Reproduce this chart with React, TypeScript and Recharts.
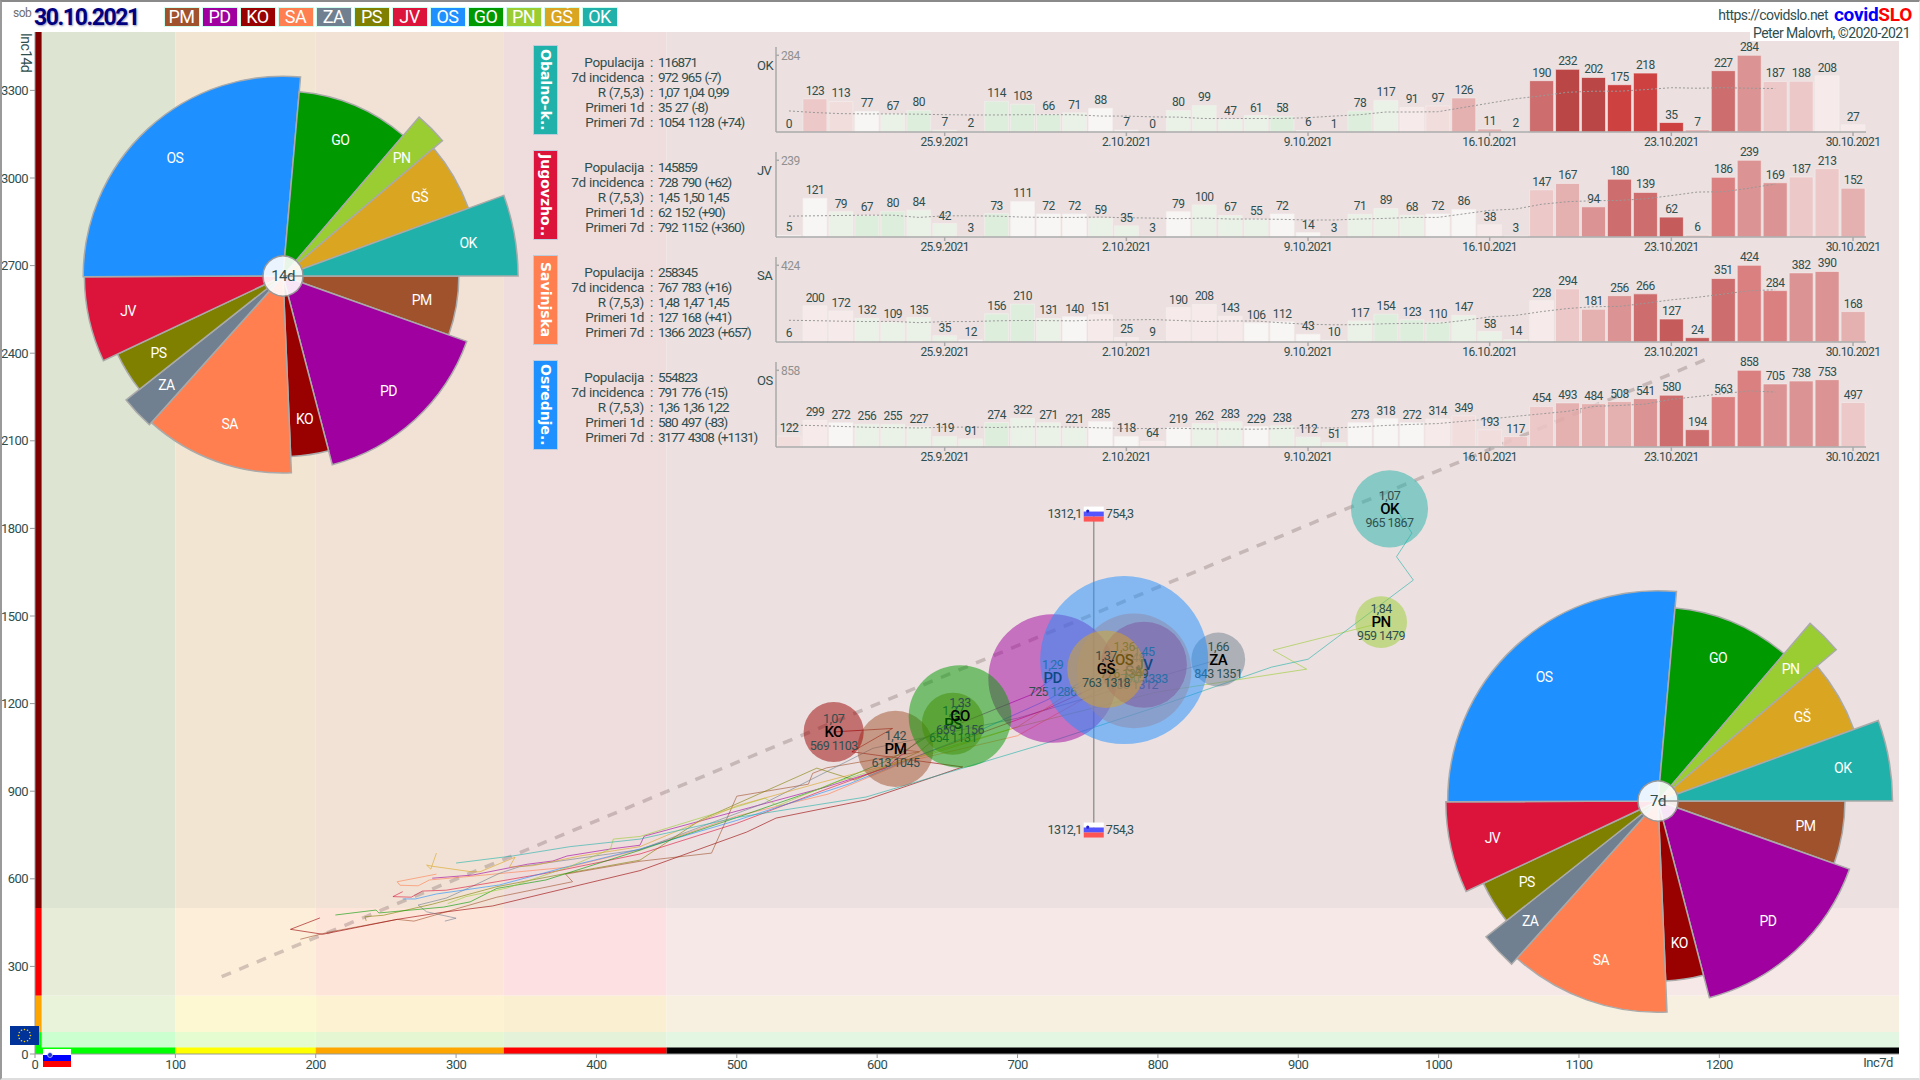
import React from 'react';
import {
  ScatterChart, Scatter, XAxis, YAxis, ZAxis, Cell, ReferenceArea, ComposedChart, Bar, Line,
  PieChart, Pie,
} from 'recharts';

const FONT = 'Roboto, sans-serif';
const INK = '#2f4f4f';

// regions, legend order
const codes = ['PM', 'PD', 'KO', 'SA', 'ZA', 'PS', 'JV', 'OS', 'GO', 'PN', 'GŠ', 'OK'];
const colors = ['#a0522d', '#a000a0', '#990000', '#ff7f50', '#708090', '#808000', '#dc143c', '#1e90ff', '#009900', '#9acd32', '#daa520', '#20b2aa'];
const population = [114000, 325000, 71000, 258345, 57000, 76000, 145859, 554823, 207000, 53000, 118000, 116871];
const inc7d = [613, 725, 569, 783, 843, 654, 790, 776, 659, 959, 763, 965];
const inc14d = [1045, 1286, 1103, 1312, 1351, 1131, 1333, 1349, 1156, 1479, 1318, 1867];
const rValues = ['1,42', '1,29', '1,07', '1,48', '1,66', '1,37', '1,45', '1,36', '1,33', '1,84', '1,37', '1,07'];

const regions = codes.map((code, i) => ({
  code, color: colors[i], pop: population[i], x: inc7d[i], y: inc14d[i], r: rValues[i],
}));

// trajectories, [inc7d, inc14d]
const tracks: Record<string, number[][]> = {
  PM: [[189, 393], [209, 417], [258, 461], [270, 455], [329, 537], [383, 590], [378, 616], [431, 660], [482, 688], [500, 883], [551, 924], [554, 961], [564, 980], [630, 1035], [613, 1045]],
  PD: [[283, 602], [312, 613], [351, 650], [369, 661], [379, 678], [410, 702], [431, 715], [434, 746], [521, 859], [564, 915], [606, 979], [630, 1075], [677, 1167], [709, 1229], [725, 1286]],
  KO: [[203, 466], [182, 427], [205, 410], [258, 461], [290, 485], [326, 507], [431, 628], [507, 760], [528, 808], [592, 870], [661, 983], [582, 1035], [611, 1115], [569, 1103]],
  SA: [[286, 616], [258, 590], [260, 578], [273, 576], [281, 596], [307, 607], [380, 640], [431, 700], [500, 815], [565, 890], [620, 1000], [700, 1090], [783, 1312]],
  ZA: [[292, 455], [300, 465], [279, 487], [273, 510], [293, 534], [311, 573], [331, 619], [345, 641], [431, 700], [520, 860], [597, 1047], [700, 1150], [843, 1351]],
  PS: [[236, 456], [235, 470], [248, 475], [283, 513], [329, 573], [379, 619], [431, 664], [474, 801], [557, 979], [584, 938], [630, 1035], [654, 1131]],
  JV: [[262, 556], [255, 539], [268, 537], [276, 558], [293, 561], [329, 590], [364, 619], [431, 685], [500, 790], [560, 900], [640, 1040], [720, 1180], [790, 1333]],
  OS: [[262, 531], [271, 531], [286, 548], [331, 579], [379, 641], [431, 702], [500, 800], [580, 925], [660, 1080], [720, 1210], [776, 1349]],
  GO: [[214, 476], [243, 493], [245, 483], [291, 503], [310, 521], [329, 567], [364, 596], [431, 698], [500, 810], [560, 910], [610, 1010], [659, 1156]],
  PN: [[294, 515], [307, 539], [336, 568], [380, 640], [410, 702], [412, 736], [431, 745], [520, 876], [529, 850], [568, 927], [650, 1050], [700, 1120], [800, 1240], [906, 1318], [882, 1383], [952, 1468], [959, 1479]],
  'GŠ': [[286, 688], [282, 633], [279, 647], [283, 643], [311, 624], [317, 624], [342, 674], [338, 640], [355, 645], [388, 678], [431, 710], [500, 850], [560, 930], [640, 1030], [700, 1120], [763, 1318]],
  OK: [[300, 654], [340, 678], [381, 710], [431, 736], [500, 810], [592, 880], [716, 1058], [800, 1190], [881, 1325], [907, 1352], [982, 1623], [970, 1703], [981, 1784], [971, 1857], [965, 1867]],
};

const trendLine = [{ x: 133, y: 265 }, { x: 1195, y: 2388 }];
const sloMarkers = [{ x: 754.3, y: 1849 }, { x: 754.3, y: 767 }];

// background bands
const xBands = [0, 100, 200, 334, 450, 1328];
const yBands = [0, 75, 200, 500, 3500];
const bandFills = [
  ['#ccffcf', '#e4fccf', '#e4f6d2', '#e4f2da', '#e2f6e2'],
  ['#e8f3d9', '#fdf7d2', '#fdf3d2', '#fbefd2', '#f7f0e0'],
  ['#e7ecd9', '#fdeeda', '#fee5da', '#fde0e2', '#f7e8e8'],
  ['#dde5d2', '#f2e6d2', '#f1e2d5', '#efdcdc', '#ece0e0'],
];
const xStripFills = ['#00ff00', '#ffff00', '#ffa500', '#ff0000', '#000000'];
const yStripFills = ['#00ff00', '#ffa500', '#ff0000', '#800000'];
const xTicks = [0, 100, 200, 300, 400, 500, 600, 700, 800, 900, 1000, 1100, 1200];
const yTicks = [0, 300, 600, 900, 1200, 1500, 1800, 2100, 2400, 2700, 3000, 3300];

// small daily charts
const days = [
  '19.9.2021', '20.9.2021', '21.9.2021', '22.9.2021', '23.9.2021', '24.9.2021', '25.9.2021',
  '26.9.2021', '27.9.2021', '28.9.2021', '29.9.2021', '30.9.2021', '1.10.2021', '2.10.2021',
  '3.10.2021', '4.10.2021', '5.10.2021', '6.10.2021', '7.10.2021', '8.10.2021', '9.10.2021',
  '10.10.2021', '11.10.2021', '12.10.2021', '13.10.2021', '14.10.2021', '15.10.2021', '16.10.2021',
  '17.10.2021', '18.10.2021', '19.10.2021', '20.10.2021', '21.10.2021', '22.10.2021', '23.10.2021',
  '24.10.2021', '25.10.2021', '26.10.2021', '27.10.2021', '28.10.2021', '29.10.2021', '30.10.2021',
];
const dayTicks = ['25.9.2021', '2.10.2021', '9.10.2021', '16.10.2021', '23.10.2021', '30.10.2021'];

const okDaily = [0, 123, 113, 77, 67, 80, 7, 2, 114, 103, 66, 71, 88, 7, 0, 80, 99, 47, 61, 58, 6, 1, 78, 117, 91, 97, 126, 11, 2, 190, 232, 202, 175, 218, 35, 7, 227, 284, 187, 188, 208, 27];
const jvDaily = [5, 121, 79, 67, 80, 84, 42, 3, 73, 111, 72, 72, 59, 35, 3, 79, 100, 67, 55, 72, 14, 3, 71, 89, 68, 72, 86, 38, 3, 147, 167, 94, 180, 139, 62, 6, 186, 239, 169, 187, 213, 152];
const saDaily = [6, 200, 172, 132, 109, 135, 35, 12, 156, 210, 131, 140, 151, 25, 9, 190, 208, 143, 106, 112, 43, 10, 117, 154, 123, 110, 147, 58, 14, 228, 294, 181, 256, 266, 127, 24, 351, 424, 284, 382, 390, 168];
const osDaily = [122, 299, 272, 256, 255, 227, 119, 91, 274, 322, 271, 221, 285, 118, 64, 219, 262, 283, 229, 238, 112, 51, 273, 318, 272, 314, 349, 193, 117, 454, 493, 484, 508, 541, 580, 194, 563, 858, 705, 738, 753, 497];

const okAvg = [78, 72, 68, 67, 67, 66, 64, 63, 63, 64, 64, 64, 59, 59, 56, 55, 50, 50, 50, 50, 53, 59, 64, 74, 74, 75, 91, 107, 123, 134, 147, 151, 151, 157, 164, 162, 164, 162, 161];
const jvAvg = [65, 66, 67, 68, 68, 61, 66, 66, 65, 62, 61, 61, 62, 60, 59, 57, 59, 56, 56, 55, 53, 53, 56, 58, 61, 61, 72, 83, 87, 102, 110, 113, 114, 119, 129, 140, 141, 152, 165];
const saAvg = [120, 118, 115, 113, 114, 107, 113, 113, 117, 119, 118, 117, 122, 122, 124, 119, 113, 116, 116, 106, 98, 95, 96, 101, 103, 103, 119, 139, 147, 168, 185, 195, 197, 214, 233, 247, 265, 283, 289];
const osAvg = [245, 240, 230, 221, 217, 213, 221, 223, 218, 226, 226, 222, 214, 206, 207, 209, 202, 201, 199, 207, 215, 213, 225, 241, 253, 262, 288, 313, 343, 371, 399, 454, 465, 480, 533, 564, 597, 627, 615];

// bar tone per day: -2 green .. 0 white .. 10 dark red
const okTones = [0, 3, 2, 0, -1, -2, -1, 0, -2, -2, -2, -1, 0, 0, 0, -1, -1, -1, -1, -2, 0, 0, -2, -1, 1, 2, 4, 4, 0, 7, 9, 9, 10, 10, 10, 5, 7, 5, 3, 3, 1, 1];
const jvTones = [0, 0, -1, -2, -2, -1, -1, 0, -2, 0, 0, 0, -1, -1, 0, 0, -1, -1, -1, 0, 0, 0, -1, -1, -1, 0, 0, 1, 0, 3, 4, 5, 7, 7, 8, 3, 6, 5, 5, 3, 3, 4];
const saTones = [0, 1, 1, -1, -1, -1, -1, 0, -2, -2, -1, 0, 1, 1, 1, 1, 1, 1, 0, 0, 0, 0, -1, -2, -2, -2, -1, -1, -1, 1, 3, 4, 5, 7, 8, 8, 7, 6, 6, 5, 5, 4];
const osTones = [2, 1, 0, -1, -1, -1, -1, -1, -2, -1, -1, -1, 0, 0, 1, 0, -1, -1, 0, -1, -1, -1, 0, 0, 0, 1, 2, 2, 3, 3, 4, 4, 4, 5, 7, 7, 6, 6, 5, 5, 5, 3];
const toneFills = ['#dcefdc', '#e9f3e6', '#f8f8f6', '#f7eaea', '#f2dcdc', '#edc4c4', '#e2a8a8', '#da8888', '#d87272', '#c85c5c', '#c04848', '#b43030', '#c82a2a'];

const statLabels = ['Populacija', '7d incidenca', 'R (7,5,3)', 'Primeri 1d', 'Primeri 7d'];
const okStats = ['116871', '972 965 (-7)', '1,07 1,04 0,99', '35 27 (-8)', '1054 1128 (+74)'];
const jvStats = ['145859', '728 790 (+62)', '1,45 1,50 1,45', '62 152 (+90)', '792 1152 (+360)'];
const saStats = ['258345', '767 783 (+16)', '1,48 1,47 1,45', '127 168 (+41)', '1366 2023 (+657)'];
const osStats = ['554823', '791 776 (-15)', '1,36 1,36 1,22', '580 497 (-83)', '3177 4308 (+1131)'];

const rows = [
  { code: 'OK', title: 'Obalno-k..', color: '#20b2aa', daily: okDaily, avg: okAvg, tones: okTones, stats: okStats },
  { code: 'JV', title: 'Jugovzho..', color: '#dc143c', daily: jvDaily, avg: jvAvg, tones: jvTones, stats: jvStats },
  { code: 'SA', title: 'Savinjska', color: '#ff7f50', daily: saDaily, avg: saAvg, tones: saTones, stats: saStats },
  { code: 'OS', title: 'Osrednje..', color: '#1e90ff', daily: osDaily, avg: osAvg, tones: osTones, stats: osStats },
];

const Txt = ({ x, y, size = 13, color = INK, anchor = 'left', children, style = {} }: any) => (
  <div style={{
    position: 'absolute', top: y - size * 0.7, lineHeight: `${size * 1.4}px`, fontSize: size, color,
    fontFamily: FONT, whiteSpace: 'nowrap',
    ...(anchor === 'right' ? { right: 1920 - x } : anchor === 'center' ? { left: x, transform: 'translateX(-50%)' } : { left: x }),
    ...style,
  }}>{children}</div>
);

const BubbleShape = (props: any) => {
  const { cx, cy, payload, width, size } = props;
  const radius = width ? width / 2 : Math.sqrt(size / Math.PI);
  return (
    <g fontFamily={FONT} textAnchor="middle">
      <circle cx={cx} cy={cy} r={radius} fill={payload.color} fillOpacity={0.5} />
      <text x={cx} y={cy - 9} fontSize={12.5} fill={INK}>{payload.r}</text>
      <text x={cx} y={cy + 5} fontSize={15} fontWeight={500} fill="#000">{payload.code}</text>
      <text x={cx} y={cy + 18} fontSize={12.5} fill={INK}>{payload.x} {payload.y}</text>
    </g>
  );
};

const SloMarker = (props: any) => {
  const { cx, cy } = props;
  return (
    <g fontFamily={FONT} fontSize={12.5} fill={INK}>
      <rect x={cx - 10} y={cy - 7.5} width={20} height={5} fill="#ffffff" />
      <rect x={cx - 10} y={cy - 2.5} width={20} height={5} fill="#5555ff" />
      <rect x={cx - 10} y={cy + 2.5} width={20} height={5} fill="#ff5555" />
      <circle cx={cx - 6} cy={cy - 3} r={1.6} fill="#2222cc" />
      <text x={cx - 12} y={cy + 4} textAnchor="end">1312,1</text>
      <text x={cx + 12} y={cy + 4}>754,3</text>
    </g>
  );
};

const NoPoint = () => null;

// the labels hang on an invisible line so zero days keep theirs too
const CaseLabel = (p: any) => (
  <text x={p.x} y={p.y - 4} textAnchor="middle" fontSize={12} fill={INK} fontFamily={FONT}>{p.value}</text>
);

function RosePie({ left, top, metric, k, center }: any) {
  const data = regions.map((r) => ({ ...r, radius: k * Math.sqrt(metric[codes.indexOf(r.code)]) }));
  const sliceLabel = (p: any) => {
    const d = data[p.index];
    const a = (-p.midAngle * Math.PI) / 180;
    return (
      <text x={p.cx + d.radius * 0.8 * Math.cos(a)} y={p.cy + d.radius * 0.8 * Math.sin(a) + 5}
        textAnchor="middle" fontFamily={FONT} fontSize={14} fill="#ffffff">{d.code}</text>
    );
  };
  const centerLabel = (p: any) => (
    <text x={p.cx} y={p.cy + 5} textAnchor="middle" fontFamily={FONT} fontSize={15} fill={INK}>{center}</text>
  );
  return (
    <div style={{ position: 'absolute', left, top }}>
      <PieChart width={520} height={520} margin={{ top: 0, right: 0, bottom: 0, left: 0 }}>
        <Pie data={data} dataKey="pop" cx={260} cy={260} startAngle={0} endAngle={-360} innerRadius={0}
          outerRadius={(d: any) => d.radius} stroke="#aaaaaa" strokeWidth={1.5}
          label={sliceLabel} labelLine={false} isAnimationActive={false}>
          {data.map((d) => <Cell key={d.code} fill={d.color} />)}
        </Pie>
        <Pie data={[{ v: 1 }]} dataKey="v" cx={260} cy={260} innerRadius={0} outerRadius={20}
          fill="#ffffff" fillOpacity={0.9} stroke="#999999" strokeWidth={1.5}
          label={centerLabel} labelLine={false} isAnimationActive={false} />
      </PieChart>
    </div>
  );
}

function DailyRow({ row, index }: any) {
  const rowTop = 105 * index;
  const max = Math.max(...row.daily);
  const data = days.map((date, i) => ({ date, cases: row.daily[i], avg: row.avg[i] ?? null }));
  return (
    <>
      <div style={{
        position: 'absolute', left: 533, top: 45 + rowTop, width: 25, height: 90, background: row.color,
        border: '1px solid #bcd', boxSizing: 'border-box', color: '#fff', letterSpacing: 0,
        fontFamily: '"DejaVu Sans", sans-serif', fontWeight: 'bold', fontSize: 14, lineHeight: '23px',
        writingMode: 'vertical-rl', textAlign: 'center', whiteSpace: 'nowrap', overflow: 'hidden',
      }}>{row.title}</div>
      {statLabels.map((label, i) => (
        <React.Fragment key={label}>
          <Txt x={644} y={62 + rowTop + 15 * i} anchor="right" size={13.5} style={{ letterSpacing: '-0.3px' }}>{label}</Txt>
          <Txt x={650} y={62 + rowTop + 15 * i} size={13.5}>:</Txt>
          <Txt x={658} y={62 + rowTop + 15 * i} size={13.5} style={{ letterSpacing: '-1.1px', wordSpacing: '1.5px' }}>{row.stats[i]}</Txt>
        </React.Fragment>
      ))}
      <Txt x={757} y={66 + rowTop} size={13}>{row.code}</Txt>
      <div style={{ position: 'absolute', left: 750, top: 39 + rowTop }}>
        <ComposedChart width={1130} height={111} data={data} barCategoryGap={1}
          margin={{ top: 8, right: 14, bottom: 0, left: 26 }}>
          <XAxis dataKey="date" ticks={dayTicks} interval={0} height={18} tickSize={4} stroke="#aaaaaa"
            strokeWidth={1.5} tick={{ fill: INK, fontSize: 12, fontFamily: FONT, dy: -1 }} />
          <YAxis mirror domain={[0, max * 1.108]} ticks={[max]} tickSize={3} stroke="#aaaaaa"
            strokeWidth={1.5} tick={{ fill: '#909090', fontSize: 12, fontFamily: FONT }} />
          <Bar dataKey="cases" isAnimationActive={false} fillOpacity={0.88} stroke="#f6f0f0" strokeWidth={0.6}>
            {data.map((d, i) => <Cell key={d.date} fill={toneFills[row.tones[i] + 2]} />)}
          </Bar>
          <Line dataKey="avg" stroke="#999999" strokeWidth={1} strokeDasharray="2 2" dot={false}
            connectNulls={false} isAnimationActive={false} />
          <Line dataKey="cases" stroke="none" dot={false} label={CaseLabel} isAnimationActive={false} />
        </ComposedChart>
      </div>
    </>
  );
}

const euStars = [0, 30, 60, 90, 120, 150, 180, 210, 240, 270, 300, 330];

export default function App() {
  return (
    <div style={{ position: 'absolute', left: 0, top: 0, width: 1920, height: 1080, background: '#fff', overflow: 'hidden', letterSpacing: '-0.55px' }}>
      <ScatterChart width={1920} height={1080} margin={{ top: 32, right: 21, bottom: 0, left: 0 }} style={{ position: 'absolute', left: 0, top: 0 }}>
        <XAxis type="number" dataKey="x" domain={[0, 1328]} ticks={xTicks} height={26} tickSize={4} stroke="#999999" allowDataOverflow
          tick={{ fill: INK, fontSize: 13, fontFamily: FONT }} />
        <YAxis type="number" dataKey="y" domain={[0, 3500]} ticks={yTicks} width={35} tickSize={5} stroke="#999999" allowDataOverflow
          tick={{ fill: INK, fontSize: 13, fontFamily: FONT }} />
        <ZAxis type="number" dataKey="pop" domain={[0, 554823]} range={[0, 22167]} />
        {yBands.slice(0, -1).map((y1, j) => xBands.slice(0, -1).map((x1, i) => (
          <ReferenceArea key={`${i}-${j}`} x1={x1} x2={xBands[i + 1]} y1={y1} y2={yBands[j + 1]}
            fill={bandFills[j][i]} fillOpacity={1} stroke="none" />
        )))}
        {xStripFills.map((fill, i) => (
          <ReferenceArea key={fill} x1={xBands[i]} x2={xBands[i + 1]} y1={0} y2={22} fill={fill} fillOpacity={1} stroke="none" />
        ))}
        {yStripFills.map((fill, j) => (
          <ReferenceArea key={fill} x1={0} x2={4.7} y1={yBands[j]} y2={yBands[j + 1]} fill={fill} fillOpacity={1} stroke="none" />
        ))}
        <Scatter data={trendLine} shape={NoPoint} isAnimationActive={false}
          line={{ stroke: 'rgba(120,100,100,0.32)', strokeWidth: 3.5, strokeDasharray: '10 9' }} />
        {codes.map((code, i) => (
          <Scatter key={code} data={tracks[code].map(([x, y]) => ({ x, y }))} shape={NoPoint} isAnimationActive={false}
            line={{ stroke: colors[i], strokeWidth: 1, strokeOpacity: 0.6 }} />
        ))}
        <Scatter data={sloMarkers} shape={NoPoint} isAnimationActive={false} line={{ stroke: '#999999', strokeWidth: 1.5 }} />
        <Scatter data={regions} shape={BubbleShape} isAnimationActive={false} />
        <Scatter data={sloMarkers} shape={SloMarker} isAnimationActive={false} />
      </ScatterChart>

      {rows.map((row, i) => <DailyRow key={row.code} row={row} index={i} />)}

      <RosePie left={23} top={16} metric={inc14d} k={5.44} center="14d" />
      <RosePie left={1398} top={541} metric={inc7d} k={7.55} center="7d" />

      {/* header */}
      <Txt x={13} y={13} size={12} color="#707070">sob</Txt>
      <Txt x={34} y={18} size={23} color="#000080" style={{ fontWeight: 'bold', letterSpacing: '-1.4px', textShadow: '1px 1px 2px #9999bb' }}>30.10.2021</Txt>
      {codes.map((code, i) => (
        <div key={code} style={{
          position: 'absolute', left: 163.5 + 38 * i, top: 7, width: 36, height: 20, background: colors[i],
          border: '1px solid #cfe', boxSizing: 'border-box', color: '#fff', fontFamily: FONT, fontSize: 18,
          lineHeight: '18px', textAlign: 'center',
        }}>{code}</div>
      ))}
      <Txt x={1828} y={16} anchor="right" size={14}>https://covidslo.net</Txt>
      <Txt x={1834} y={15} size={19} color="#0000ff" style={{ fontWeight: 'bold', letterSpacing: '-0.3px' }}>covid<span style={{ color: '#ff0000' }}>SLO</span></Txt>
      <div style={{ position: 'absolute', left: 1750, top: 28, width: 170, height: 13, background: '#fff' }} />
      <Txt x={1910} y={34} anchor="right" size={14}>Peter Malovrh, ©2020-2021</Txt>

      {/* axis captions */}
      <Txt x={15} y={50} size={14} style={{ writingMode: 'vertical-rl', top: 33 }}>Inc14d</Txt>
      <Txt x={1878} y={1063} anchor="center" size={13}>Inc7d</Txt>

      {/* flags */}
      <svg style={{ position: 'absolute', left: 10, top: 1026 }} width={29} height={19}>
        <rect width={29} height={19} fill="#003399" />
        {euStars.map((a) => (
          <circle key={a} cx={14.5 + 6 * Math.cos((a * Math.PI) / 180)} cy={9.5 + 6 * Math.sin((a * Math.PI) / 180)} r={0.8} fill="#ffcc00" />
        ))}
      </svg>
      <svg style={{ position: 'absolute', left: 43, top: 1049 }} width={28} height={18}>
        <rect width={28} height={6} fill="#ffffff" />
        <rect y={6} width={28} height={6} fill="#0000ff" />
        <rect y={12} width={28} height={6} fill="#ff0000" />
        <circle cx={7} cy={6} r={2.5} fill="#2233cc" stroke="#fff" strokeWidth={0.6} />
      </svg>

      {/* frame */}
      <div style={{ position: 'absolute', left: 0, top: 0, width: 1920, height: 1080, boxSizing: 'border-box', borderTop: '2px solid #8a8a8a', borderLeft: '2px solid #9a9a9a', borderBottom: '2px solid #dddddd', borderRight: '1px solid #eeeeee', pointerEvents: 'none' }} />
    </div>
  );
}
